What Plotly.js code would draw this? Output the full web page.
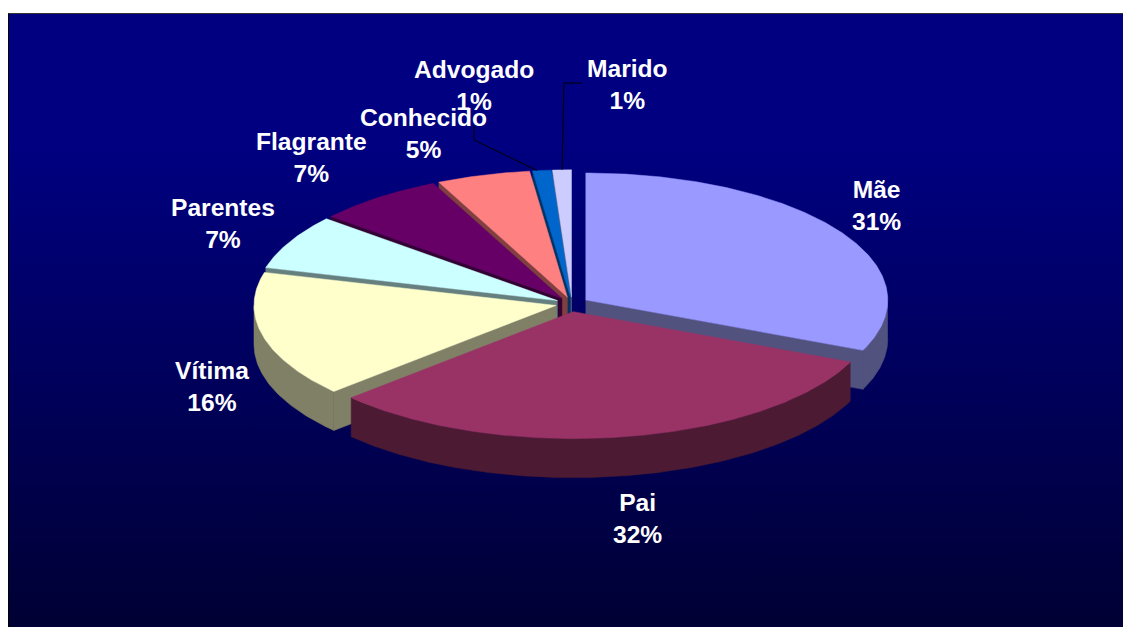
<!DOCTYPE html>
<html>
<head>
<meta charset="utf-8">
<script src="https://cdn.plot.ly/plotly-3.0.1.min.js"></script>
<style>
html,body{margin:0;padding:0;background:#fff;overflow:hidden;width:1123px;height:627px}
#frame{position:absolute;left:8px;top:13px;width:1115px;height:614px;box-sizing:border-box;
  border-left:1.5px solid #000;border-top:1.5px solid #333;
  background:linear-gradient(to bottom,#000080 0%,#000080 22%,#000034 100%)}
#chart{position:absolute;left:0;top:0;width:1123px;height:627px}
</style>
</head>
<body>
<div id="frame"></div>
<div id="chart"></div>
<script>
// Data (share of the whole, clockwise from 12 o'clock)
const categories = ['Mãe','Pai','Vítima','Parentes','Flagrante','Conhecido','Advogado','Marido'];
const shares     = [31.49, 31.66, 16.04, 6.95, 6.86, 5.0, 1.0, 1.0];
const topColors  = ['#9999ff','#993366','#ffffcc','#ccffff','#660066','#ff8080','#0066cc','#ccccff'];
const sideColors = ['#52527f','#4d1a33','#808066','#668080','#330033','#804040','#003366','#666680'];

// Label layout (pixels of the 1123x627 page)
const labelX = [876, 637, 212, 223, 311, 423, 474, 627];
const labelY = [205, 518, 386, 223, 157, 133, 85, 84];
// Small per-slice nudges of the exploded centres
const nudgeX = [0, -1.5, 0, 0, 0, 0, 0, 0];
const nudgeY = [0, 1, 0, 0, 0, 0, 0, 0];
// Leader line elbows, by category
const leaders = {
  'Advogado': {x:[474,474], y:[140,125], shift:-5},
  'Marido':   {x:[564,582], y:[83,83], shift:0}
};

// Pie projection
const BASE_X = 572, BASE_Y = 303.8, RX = 302, RY = 127, DEPTH = 39, EXPLODE = 16.5;
const ratio = RY / RX;
const rad = d => d * Math.PI / 180;

const total = shares.reduce((a,b)=>a+b,0);
let acc = 0;
const slices = shares.map((v,i)=>{
  const a = acc / total * 360; acc += v; const b = acc / total * 360;
  const m = (a+b)/2;
  return {i, a, b, m,
    cx: BASE_X + EXPLODE*Math.sin(rad(m)) + nudgeX[i],
    cy: BASE_Y - EXPLODE*ratio*Math.cos(rad(m)) + nudgeY[i]};
});

const px = (s,t)=> s.cx + RX*Math.sin(rad(t));
const py = (s,t)=> s.cy - RY*Math.cos(rad(t));

function arc(s,a,b,dz){
  const xs=[],ys=[]; const n=Math.max(2,Math.ceil((b-a)*2));
  for(let k=0;k<=n;k++){const t=a+(b-a)*k/n; xs.push(px(s,t)); ys.push(py(s,t)+dz);}
  return [xs,ys];
}
const poly=(xs,ys,color,name)=>({type:'scatter',mode:'lines',x:xs,y:ys,fill:'toself',fillcolor:color,
  line:{color:color,width:0.5},hoverinfo:'skip',showlegend:false,name});

const traces=[];
// Paint from the back to the front
const order=[7,6,5,4,3,2,0,1];
order.forEach(i=>{
  const s=slices[i], side=sideColors[i], top=topColors[i], name=categories[i];
  // radial cut faces turned towards the viewer
  [[s.a,s.a-90],[s.b,s.b+90]].forEach(([t,n])=>{
    if(Math.cos(rad(n))<-1e-6){
      const ex=px(s,t), ey=py(s,t);
      traces.push(poly([s.cx,ex,ex,s.cx,s.cx],[s.cy,ey,ey+DEPTH,s.cy+DEPTH,s.cy],side,name+' corte'));
    }
  });
  // outer wall
  const wa=Math.max(s.a,90), wb=Math.min(s.b,270);
  if(wb>wa){
    const [tx,ty]=arc(s,wa,wb,0), [bx,by]=arc(s,wa,wb,DEPTH);
    traces.push(poly(tx.concat(bx.reverse()),ty.concat(by.reverse()),side,name+' lateral'));
  }
  // top face
  const [ax,ay]=arc(s,s.a,s.b,0);
  traces.push(poly([s.cx].concat(ax,[s.cx]),[s.cy].concat(ay,[s.cy]),top,name));
});

// Leader lines, anchored on their slices
categories.forEach((c,i)=>{
  const l=leaders[c]; if(!l) return;
  const s=slices[i], t=s.m, sx=px(s,t)+l.shift, sy=py(s,t);
  traces.push({type:'scatter',mode:'lines',x:[sx].concat(l.x),y:[sy].concat(l.y),
    line:{color:'#000',width:1},hoverinfo:'skip',showlegend:false,name:c+' guia'});
});

const annotations=categories.map((c,i)=>({
  x:labelX[i],y:labelY[i],xref:'x',yref:'y',showarrow:false,xanchor:'center',yanchor:'middle',
  text:c+'<br>'+Math.round(shares[i])+'%',
  font:{family:'Liberation Sans, Arial, sans-serif',size:24.6,color:'#ffffff',weight:700}
}));

const layout={
  width:1123,height:627,margin:{l:0,r:0,t:0,b:0,pad:0},
  paper_bgcolor:'rgba(0,0,0,0)',plot_bgcolor:'rgba(0,0,0,0)',
  xaxis:{range:[0,1123],visible:false,fixedrange:true},
  yaxis:{range:[627,0],visible:false,fixedrange:true},
  annotations,showlegend:false
};
Plotly.newPlot('chart',traces,layout,{displayModeBar:false,staticPlot:true});
</script>
</body>
</html>
